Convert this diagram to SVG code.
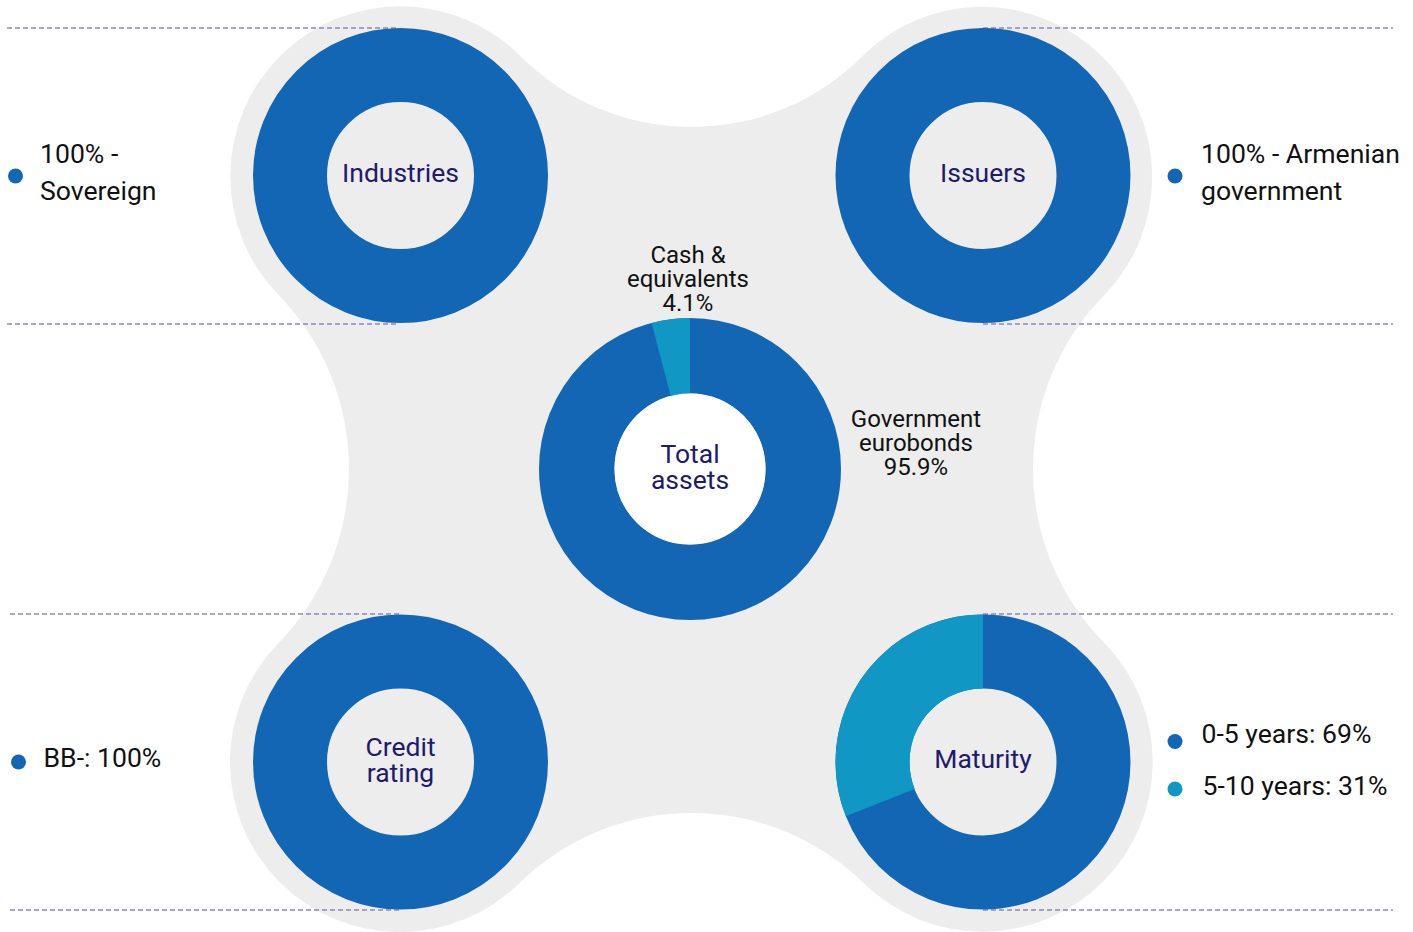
<svg xmlns="http://www.w3.org/2000/svg" width="1413" height="932" viewBox="0 0 1413 932">
  <style>
    .bg { fill: #EDEDED; }
    .ring { fill: none; stroke: #1366B3; }
    .seg { fill: #1197C4; }
    .guide { stroke: #8E86BC; stroke-width: 1.5; stroke-dasharray: 5 3; fill: none; }
    .center { font-family: Roboto, "Liberation Sans", sans-serif; font-size: 26.5px; fill: #211A6C; text-anchor: middle; }
    .legend { font-family: Roboto, "Liberation Sans", sans-serif; font-size: 26.6px; fill: #111111; }
    .label { font-family: Roboto, "Liberation Sans", sans-serif; font-size: 24px; fill: #111111; text-anchor: middle; }
    .dot { fill: #1366B3; }
    .dot2 { fill: #1197C4; }
  </style>
  <rect width="1413" height="932" fill="#FFFFFF"/>
  <path class="bg" d="M520.4,56 A241.6,241.6 0 0 0 862.6,56 A170,170 0 0 1 1104.2,295.2 A247.7,247.7 0 0 0 1104.2,642.8 A170,170 0 0 1 864,883.4 A246.5,246.5 0 0 0 519,883.4 A170,170 0 0 1 278.1,643.5 A250.2,250.2 0 0 0 278.1,294.5 A170,170 0 0 1 520.4,56 Z"/>
  <g id="guides">
    <line class="guide" x1="7" y1="28" x2="397" y2="28"/>
    <line class="guide" x1="983" y1="28" x2="1393" y2="28"/>
    <line class="guide" x1="7" y1="324" x2="397" y2="324"/>
    <line class="guide" x1="983" y1="324" x2="1393" y2="324"/>
    <line class="guide" x1="10" y1="614" x2="400" y2="614"/>
    <line class="guide" x1="983" y1="614" x2="1393" y2="614"/>
    <line class="guide" x1="10" y1="910" x2="400" y2="910"/>
    <line class="guide" x1="983" y1="910" x2="1393" y2="910"/>
  </g>
  <g id="industries">
    <circle class="ring" cx="400.5" cy="175.5" r="110.5" stroke-width="74"/>
    <text class="center" x="400.5" y="182">Industries</text>
    <circle class="dot" cx="15.5" cy="176" r="7.5"/>
    <text class="legend" x="40" y="163">100% -</text>
    <text class="legend" x="40" y="200">Sovereign</text>
  </g>
  <g id="issuers">
    <circle class="ring" cx="983" cy="175.5" r="110.5" stroke-width="74"/>
    <text class="center" x="983" y="182">Issuers</text>
    <circle class="dot" cx="1175" cy="176" r="7.5"/>
    <text class="legend" x="1201" y="163">100% - Armenian</text>
    <text class="legend" x="1201" y="200">government</text>
  </g>
  <g id="total-assets">
    <circle class="ring" cx="690" cy="469" r="113.25" stroke-width="75.5"/>
    <path class="seg" d="M690,318 A151,151 0 0 0 651.5,323 L670.8,396 A75.5,75.5 0 0 1 690,393.5 Z"/>
    <circle cx="690" cy="469" r="75.5" fill="#FFFFFF"/>
    <text class="center" x="690" y="463">Total</text>
    <text class="center" x="690" y="489">assets</text>
    <text class="label" x="688" y="263">Cash &amp;</text>
    <text class="label" x="688" y="287">equivalents</text>
    <text class="label" x="688" y="311">4.1%</text>
    <text class="label" x="916" y="427">Government</text>
    <text class="label" x="916" y="451">eurobonds</text>
    <text class="label" x="916" y="475">95.9%</text>
  </g>
  <g id="credit-rating">
    <circle class="ring" cx="400.5" cy="762" r="110.5" stroke-width="74"/>
    <text class="center" x="400.5" y="756">Credit</text>
    <text class="center" x="400.5" y="782">rating</text>
    <circle class="dot" cx="18.5" cy="762" r="7.5"/>
    <text class="legend" x="43.5" y="767">BB-: 100%</text>
  </g>
  <g id="maturity">
    <circle class="ring" cx="983" cy="762" r="110.5" stroke-width="74"/>
    <path class="seg" d="M983,614.5 A147.5,147.5 0 0 0 845.9,816.3 L914.7,789.1 A73.5,73.5 0 0 1 983,688.5 Z"/>
    <text class="center" x="983" y="767.5">Maturity</text>
    <circle class="dot" cx="1175" cy="741.5" r="7.5"/>
    <text class="legend" x="1201.5" y="743">0-5 years: 69%</text>
    <circle class="dot2" cx="1175" cy="789" r="7.5"/>
    <text class="legend" x="1202.5" y="795">5-10 years: 31%</text>
  </g>
</svg>
